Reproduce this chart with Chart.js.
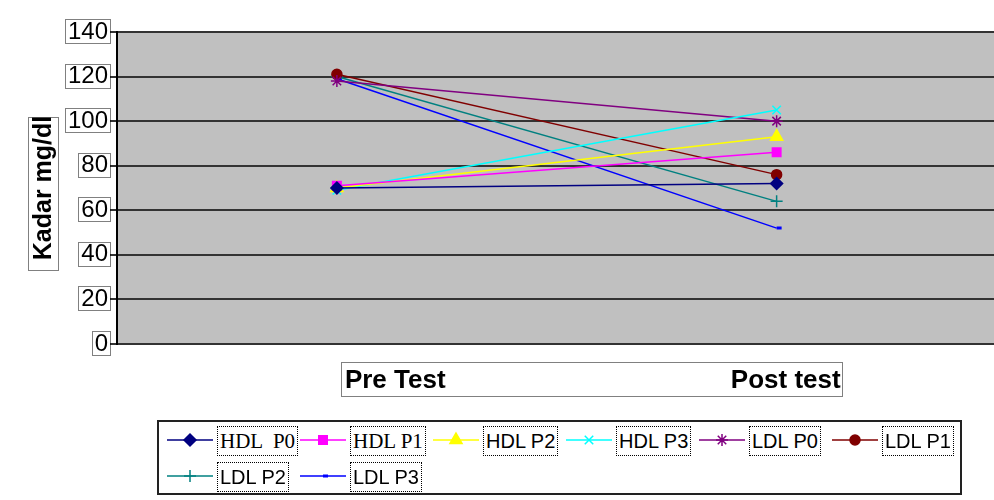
<!DOCTYPE html>
<html>
<head>
<meta charset="utf-8">
<script src="https://cdn.jsdelivr.net/npm/chart.js@4.4.0/dist/chart.umd.min.js"></script>
<style>
body { margin: 0; background: #fff; }
#wrap { position: relative; width: 994px; height: 500px; overflow: hidden; }
#legend {
    position: absolute; left: 157px; top: 420px; width: 805px; height: 75px;
    border: 2px solid #222; box-sizing: border-box;
    display: grid; grid-template-columns: repeat(6, 133px); grid-auto-rows: 34px;
    padding: 4px 0 0 8px; row-gap: 2px;
}
.item { display: flex; align-items: flex-start; }
.item canvas { margin-top: 4px; margin-right: 4px; }
.lbl {
    font: 20px 'Liberation Sans', Arial, sans-serif; border: 1px dotted #000;
    padding: 0 2px; line-height: 28px; color: #000; white-space: pre;
}
.lbl.serif { font-family: 'Liberation Serif', 'Times New Roman', serif; font-size: 21px; }
</style>
</head>
<body>
<div id="wrap">
    <canvas id="chart" width="1005" height="410"></canvas>
    <div id="legend"></div>
</div>
<script>
const categories = ['Pre Test', 'Post test'];
const yTicks = [0, 20, 40, 60, 80, 100, 120, 140];

const seriesNames = ['HDL  P0', 'HDL P1', 'HDL P2', 'HDL P3', 'LDL P0', 'LDL P1', 'LDL P2', 'LDL P3'];
const hdlP0 = [70, 72];
const hdlP1 = [71, 86];
const hdlP2 = [70, 93];
const hdlP3 = [69, 105];
const ldlP0 = [118, 100];
const ldlP1 = [121, 76];
const ldlP2 = [120, 64];
const ldlP3 = [119, 52];

const seriesValues = [hdlP0, hdlP1, hdlP2, hdlP3, ldlP0, ldlP1, ldlP2, ldlP3];
const colors = ['#000080', '#FF00FF', '#FFFF00', '#00FFFF', '#800080', '#800000', '#008080', '#0000FF'];
const markers = ['rectRot', 'rect', 'triangle', 'crossRot', 'star', 'circle', 'cross', 'dash'];
const markerSize = [6, 6, 7, 6, 6, 5, 6, 5];

const FONT = '"Liberation Sans", Arial, sans-serif';

const datasets = seriesNames.map((name, i) => ({
    label: name,
    data: seriesValues[i],
    borderColor: colors[i],
    backgroundColor: colors[i],
    borderWidth: 1.5,
    pointStyle: markers[i],
    pointRadius: markerSize[i],
    pointBorderWidth: markers[i] === 'dash' ? 3 : 1.5,
    tension: 0
}));

function dottedRect(ctx, x, y, w, h) {
    ctx.strokeRect(Math.round(x) + 0.5, Math.round(y) + 0.5, Math.round(w), Math.round(h));
}

// grey plot area, category labels and the dotted boxes round the texts
const plotBox = {
    id: 'plotBox',
    beforeDraw(chart) {
        const { ctx, chartArea: a } = chart;
        ctx.save();
        ctx.fillStyle = '#C0C0C0';
        ctx.fillRect(a.left, a.top, a.right - a.left, a.bottom - a.top);
        ctx.restore();
    },
    afterDraw(chart) {
        const ctx = chart.ctx;
        const y = chart.scales.y;
        const x = chart.scales.x;
        ctx.save();
        ctx.setLineDash([1, 1]);
        ctx.strokeStyle = '#000';
        ctx.lineWidth = 1;

        ctx.font = '24px ' + FONT;
        y.ticks.forEach(t => {
            const py = y.getPixelForValue(t.value);
            const w = ctx.measureText(String(t.value)).width;
            const r = y.right - 8;
            dottedRect(ctx, r - w - 4, py - 13, w + 5, 24);
        });

        // category labels: first one flush left, last one flush right inside one box
        const x0 = x.getPixelForValue(0), x1 = x.getPixelForValue(categories.length - 1);
        const boxL = x0 + 4, boxR = x1 + 65, boxT = x.top + 18;
        dottedRect(ctx, boxL, boxT, boxR - boxL, 34);
        ctx.setLineDash([]);
        ctx.fillStyle = '#000';
        ctx.font = 'bold 26px ' + FONT;
        ctx.textBaseline = 'middle';
        ctx.textAlign = 'left';
        ctx.fillText(categories[0], boxL + 4, boxT + 19);
        ctx.textAlign = 'right';
        ctx.fillText(categories[categories.length - 1], boxR - 1, boxT + 19);

        // y title box
        ctx.setLineDash([1, 1]);
        dottedRect(ctx, 28, 117, 30, 153);
        ctx.restore();
    }
};

new Chart(document.getElementById('chart'), {
    type: 'line',
    data: { labels: categories, datasets: datasets },
    options: {
        responsive: false,
        animation: false,
        devicePixelRatio: 1,
        layout: { padding: { top: 32, left: 0, right: 0, bottom: 0 } },
        plugins: { legend: { display: false }, tooltip: { enabled: false } },
        scales: {
            x: {
                offset: true,
                grid: { display: false },
                border: { display: false },
                ticks: { display: false },
                afterFit: s => { s.height = 66; }
            },
            y: {
                min: 0,
                max: 140,
                afterBuildTicks: s => { s.ticks = yTicks.map(v => ({ value: v })); },
                grid: { color: '#333', lineWidth: 2, tickLength: 7 },
                border: { color: '#000', width: 2 },
                ticks: {
                    padding: 2,
                    color: '#000',
                    font: { family: FONT, size: 24 }
                },
                title: {
                    display: true,
                    text: 'Kadar mg/dl',
                    color: '#000',
                    padding: { top: 29, bottom: 0 },
                    font: { family: FONT, size: 25, weight: 'bold' }
                },
                afterFit: s => { s.width = 117; }
            }
        }
    },
    plugins: [plotBox]
});

// legend drawn as html, symbols painted with the chart.js point helper
const legend = document.getElementById('legend');
datasets.forEach((ds, i) => {
    const item = document.createElement('div');
    item.className = 'item';
    const c = document.createElement('canvas');
    c.width = 46; c.height = 20;
    const g = c.getContext('2d');
    g.strokeStyle = ds.borderColor;
    g.lineWidth = 1.5;
    g.beginPath(); g.moveTo(0, 10); g.lineTo(46, 10); g.stroke();
    g.fillStyle = ds.backgroundColor;
    g.lineWidth = ds.pointBorderWidth;
    if (Chart.helpers && Chart.helpers.drawPoint) {
        Chart.helpers.drawPoint(g, {
            pointStyle: ds.pointStyle, radius: ds.pointRadius, borderWidth: ds.pointBorderWidth, rotation: 0
        }, 23, 10);
    }
    const span = document.createElement('span');
    span.className = 'lbl' + (i < 2 ? ' serif' : '');
    span.textContent = ds.label;
    item.appendChild(c);
    item.appendChild(span);
    legend.appendChild(item);
});
</script>
</body>
</html>
